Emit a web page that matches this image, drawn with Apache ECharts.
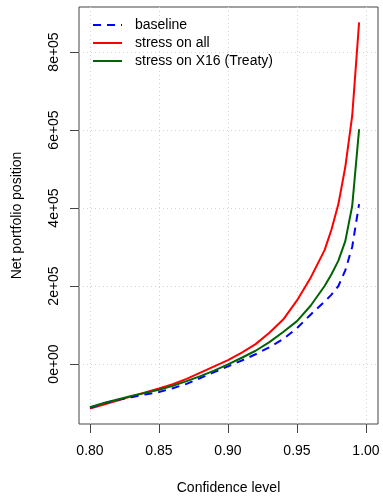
<!DOCTYPE html>
<html>
<head>
<meta charset="utf-8">
<script src="https://cdn.jsdelivr.net/npm/echarts@6/dist/echarts.min.js"></script>
<style>
html, body { margin: 0; padding: 0; background: #fff; }
#main { width: 383px; height: 496px; }
</style>
</head>
<body>
<div id="main"></div>
<script>
// confidence levels and net portfolio position
var confLevels = [0.80, 0.81, 0.82, 0.83, 0.84, 0.85, 0.86, 0.87, 0.88, 0.89, 0.90,
    0.91, 0.92, 0.93, 0.94, 0.95, 0.96, 0.97, 0.975, 0.98, 0.985, 0.99, 0.995];
var baseline = [-112000, -101000, -92000, -85000, -78000, -72000, -62000, -51000, -36000, -21000, -6000,
    9000, 25000, 43000, 64000, 92000, 127000, 160000, 178000, 200000, 240000, 300000, 410000];
var stressAll = [-114000, -104000, -94000, -83000, -73000, -63000, -52000, -38000, -22000, -6000, 10000,
    29000, 51000, 80000, 114000, 163000, 222000, 292000, 345000, 410000, 505000, 636000, 876000];
var stressX16 = [-111000, -100000, -91000, -82000, -74000, -66000, -56000, -44000, -31000, -17000, -1000,
    16000, 34000, 56000, 82000, 110000, 150000, 200000, 230000, 265000, 315000, 405000, 602000];

var xTicks = [0.80, 0.85, 0.90, 0.95, 1.00];
var yTicks = [0, 200000, 400000, 600000, 800000];

var seriesNames = ['baseline', 'stress on all', 'stress on X16 (Treaty)'];

function pairs(ys) {
    return confLevels.map(function(x, i) { return [x, ys[i]]; });
}

var font = 'Liberation Sans, Arial, Helvetica, sans-serif';

var myChart = echarts.init(document.getElementById('main'), null, { renderer: 'canvas' });
myChart.setOption({
    animation: false,
    backgroundColor: '#fff',
    grid: {
        left: 79, right: 5, top: 7, bottom: 72,
        outerBoundsMode: 'none',
        containLabel: false,
        show: true,
        borderColor: '#444',
        borderWidth: 1,
        backgroundColor: 'transparent'
    },
    legend: {
        orient: 'vertical',
        left: 92,
        top: 18,
        padding: 0,
        itemWidth: 29,
        itemHeight: 14,
        itemGap: 4,
        data: seriesNames,
        // hide the marker that echarts puts on line legend icons
        itemStyle: { color: 'rgba(0,0,0,0)', borderColor: 'rgba(0,0,0,0)', borderWidth: 0 },
        textStyle: {
            fontFamily: font,
            fontSize: 14,
            color: '#000',
            padding: [0, 0, 0, 8]
        }
    },
    xAxis: {
        type: 'value',
        min: 0.79203,
        max: 1.0087,
        name: 'Confidence level',
        nameLocation: 'middle',
        nameGap: 57,
        nameTextStyle: { fontFamily: font, fontSize: 14, color: '#000' },
        axisLine: { show: false, onZero: false },
        axisTick: {
            show: true,
            length: 9,
            inside: false,
            customValues: xTicks,
            lineStyle: { color: '#444', width: 1 }
        },
        axisLabel: {
            customValues: xTicks,
            margin: 20,
            fontFamily: font,
            fontSize: 14,
            color: '#000',
            formatter: function(v) { return v.toFixed(2); }
        },
        splitLine: {
            show: true,
            lineStyle: { color: '#d3d3d3', width: 1, type: [1, 3] }
        }
    },
    yAxis: {
        type: 'value',
        min: -153846,
        max: 915385,
        name: 'Net portfolio position',
        nameLocation: 'middle',
        nameGap: 55,
        nameTextStyle: { fontFamily: font, fontSize: 14, color: '#000' },
        axisLine: { show: false, onZero: false },
        axisTick: {
            show: true,
            length: 9,
            inside: false,
            customValues: yTicks,
            lineStyle: { color: '#444', width: 1 }
        },
        axisLabel: {
            customValues: yTicks,
            rotate: 90,
            margin: 18,
            fontFamily: font,
            fontSize: 14,
            color: '#000',
            formatter: function(v) {
                return v === 0 ? '0e+00' : (v / 100000) + 'e+05';
            }
        },
        splitLine: {
            show: true,
            lineStyle: { color: '#d3d3d3', width: 1, type: [1, 3] }
        }
    },
    series: [{
        name: seriesNames[0],
        type: 'line',
        symbol: 'none',
        z: 3,
        lineStyle: { color: '#0000ff', width: 2, type: [8, 6] },
        itemStyle: { color: '#0000ff' },
        data: pairs(baseline)
    }, {
        name: seriesNames[1],
        type: 'line',
        symbol: 'none',
        z: 2,
        lineStyle: { color: '#ff0000', width: 2 },
        itemStyle: { color: '#ff0000' },
        data: pairs(stressAll)
    }, {
        name: seriesNames[2],
        type: 'line',
        symbol: 'none',
        z: 4,
        lineStyle: { color: '#006400', width: 2 },
        itemStyle: { color: '#006400' },
        data: pairs(stressX16)
    }]
});
</script>
</body>
</html>
